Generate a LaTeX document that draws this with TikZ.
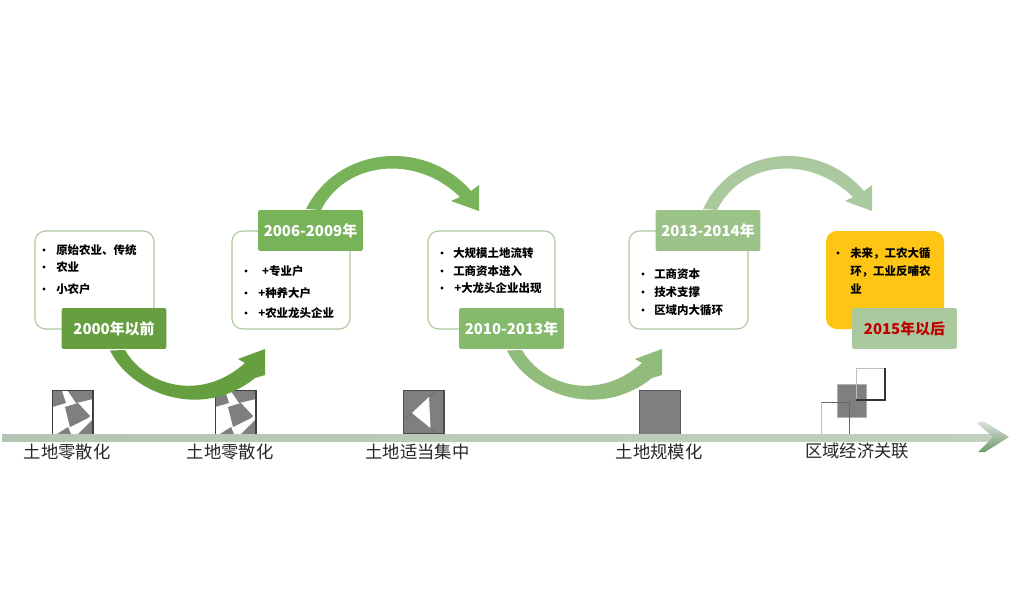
\documentclass[tikz,border=0pt]{standalone}
\usepackage{fontspec}
\setmainfont{Noto Sans CJK SC}
\definecolor{ca}{HTML}{669F40}
\definecolor{cb}{HTML}{78B35A}
\definecolor{cc}{HTML}{85B96C}
\definecolor{cca}{HTML}{92BC7C}
\definecolor{cd}{HTML}{9BC289}
\definecolor{cda}{HTML}{ABC99E}
\definecolor{cyel}{HTML}{FFC515}
\definecolor{cred}{HTML}{C00000}
\definecolor{tile}{HTML}{7F7F7F}
\definecolor{axl}{HTML}{B5C4B5}
\definecolor{axr}{HTML}{C3D0C0}
\definecolor{chevb}{HTML}{6F9A6C}
\definecolor{chevt}{HTML}{DDE3DD}
\tikzset{
  x=0.75pt,y=-0.75pt,
  listbox/.style={draw=#1,line width=0.85pt,rounded corners=8pt,fill=white},
  yearbox/.style={fill=#1,rounded corners=1.5pt,text=white,font=\bfseries\fontsize{11.2pt}{13pt}\selectfont,anchor=center,inner sep=0pt,text centered,minimum height=30.7pt,minimum width=78.5pt},
  axislabel/.style={font=\fontsize{13pt}{15pt}\selectfont,text=black!85,inner sep=0pt},
  item/.style={font=\bfseries\fontsize{8.6pt}{10pt}\selectfont,anchor=west,inner sep=0pt,text=black},
}
\newcommand{\lowarrow}[2]{%
  \fill[#2,shift={(#1,0)}] (110,350.5) .. controls (130,392) and (200,422) .. (255,378) -- (265,375) -- (265,349) -- (238,359) -- (245,363) .. controls (200,403) and (145,385) .. (125,350) -- cycle;}
\newcommand{\fragtile}[1]{%
  \begin{scope}[shift={(#1,0)}]
    \fill[white] (52,390) rectangle (94,434);
    \fill[tile] (52,391) -- (62,391) -- (66,403) -- (52,407) -- cycle;
    \fill[tile] (68,391) -- (93,391) -- (93,399) -- (76,403) -- cycle;
    \fill[tile] (65,407) -- (78,403) -- (90,416) -- (88,418) -- (70,427) -- cycle;
    \fill[tile] (57,434) -- (68,427) -- (71,434) -- cycle;
    \fill[tile] (78,434) -- (93,419) -- (93,434) -- cycle;
    \draw[black!75,line width=.8pt] (52.5,434) -- (52.5,390.5) -- (93,390.5) -- (93,434);
  \end{scope}}
\begin{document}
\begin{tikzpicture}
\useasboundingbox (0,0) rectangle (1024,600);
\fill[white] (0,0) rectangle (1024,600);
% tiles
\fragtile{0}
\fragtile{163}
\fill[tile,draw=black!70,line width=.8pt] (403.5,390.5) rectangle (444,434);
\fill[white] (412,413) -- (429,397) -- (430.5,428) -- cycle;
\draw[black!60,line width=.4pt] (403.5,421) -- (412,413) (429,397) -- (435,390.5) (430.5,428) -- (435,433);
\fill[tile,draw=black!65,line width=.7pt] (639.5,390.5) rectangle (680,434);
\fill[tile,draw=black!30,line width=.5pt] (837,384) rectangle (866,417);
\draw[black!25,line width=.6pt] (856,368) -- (885,368);
\draw[black!25,line width=.6pt] (856,368) -- (856,400);
\draw[black!80,line width=.8pt] (885,368) -- (885,400) -- (856,400);
\draw[black!25,line width=.6pt] (821.5,434) -- (821.5,402);
\draw[black!60,line width=.6pt] (821.5,402) -- (849.5,402) -- (849.5,434);
% axis
\shade[left color=axl,right color=axr] (2,434) rectangle (996,441);
\shade[top color=chevt,bottom color=chevb] (977,423) -- (983,421) -- (1009,437) -- (985,452) -- (978,452) -- (993,437) -- cycle;
% arrows
\lowarrow{0}{ca}
\fill[cb] (306,209) .. controls (338,146) and (425,138) .. (471,191) -- (479,185) -- (479,211) -- (451,201) -- (460,197) .. controls (415,153) and (345,162) .. (321,210) -- cycle;
\lowarrow{397}{cca}
\fill[cda] (703,209) .. controls (733,146) and (818,138) .. (864,191) -- (872,185) -- (872,211) -- (845,201) -- (853,197) .. controls (808,153) and (741,162) .. (717,210) -- cycle;
% boxes
\draw[listbox=cda] (35,231) rectangle (154,329);
\draw[listbox=cda] (232,231) rectangle (350,329);
\draw[listbox=cda] (428,231) rectangle (555,329);
\draw[listbox=cda] (629,231) rectangle (748,329);
\fill[cyel,rounded corners=8pt] (826,231) rectangle (944,329);
\node[yearbox=ca] (y1) at (114,328.5) {2000年以前};
\node[yearbox=cb] (y2) at (310.5,230.5) {2006-2009年};
\node[yearbox=cc] (y3) at (511.5,328.5) {2010-2013年};
\node[yearbox=cd] (y4) at (708,230.5) {2013-2014年};
\node[yearbox=cda,text=cred] (y5) at (904.5,328.5) {2015年以后};
% lists
\foreach \xd/\xt/\yy/\t in {
 44/56/250/原始农业、传统, 44/56/267/农业, 44/56/289/小农户,
 246/260/271/\,+专业户, 246/258/293/+种养大户, 246/258/313/+农业龙头企业,
 442/453/253/大规模土地流转, 442/453/271/工商资本进入, 442/454/288/+大龙头企业出现,
 643/654/274/工商资本, 643/654/292/技术支撑, 643/654/310/区域内大循环,
 838/850/253/未来，工农大循, 0/850/271/环，工业反哺农, 0/850/289/业}{
  \node[item] at (\xt,\yy) {\t};
  \ifnum\xd>0 \fill[black] (\xd,\yy) circle (1.6);\fi
}
% labels
\node[axislabel] (l1) at (67,452) {土地零散化};
\node[axislabel] (l2) at (230,452) {土地零散化};
\node[axislabel] (l3) at (417.5,452) {土地适当集中};
\node[axislabel] (l4) at (659,452) {土地规模化};
\node[axislabel] (l5) at (857,451) {区域经济关联};
\end{tikzpicture}
\end{document}
